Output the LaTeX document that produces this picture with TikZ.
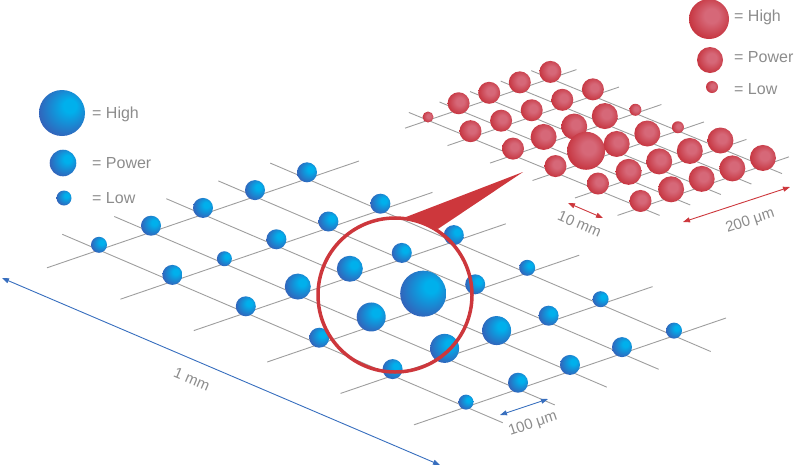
\documentclass[tikz,border=0pt]{standalone}
\usepackage{fontspec}
\setmainfont{Liberation Sans}
\usetikzlibrary{arrows.meta}

\definecolor{gridgray}{RGB}{158,158,158}
\definecolor{bhi}{RGB}{0,176,236}
\definecolor{blo}{RGB}{52,96,184}
\definecolor{rhi}{RGB}{214,104,120}
\definecolor{rlo}{RGB}{196,46,56}
\definecolor{dimblue}{RGB}{55,110,190}
\definecolor{dimred}{RGB}{205,55,60}
\definecolor{txtgray}{RGB}{140,140,140}

\pgfdeclareradialshading{bluesph}{\pgfpoint{10bp}{9bp}}{color(0bp)=(bhi); color(7bp)=(bhi); color(31bp)=(blo); color(50bp)=(blo)}
\pgfdeclareradialshading{redsph}{\pgfpoint{4bp}{5bp}}{color(0bp)=(rhi); color(9bp)=(rhi); color(30bp)=(rlo); color(50bp)=(rlo)}

\begin{document}
\begin{tikzpicture}[x=1pt,y=-1pt,
  gridline/.style={gridgray,line width=0.9pt},
  bball/.style={circle,inner sep=0pt,minimum size=2*#1,shade,shading=bluesph},
  rball/.style={circle,inner sep=0pt,minimum size=2*#1,shade,shading=redsph},
  legtext/.style={txtgray,anchor=west,inner sep=0pt,font=\fontsize{16}{18}\selectfont},
  dimtext/.style={txtgray,inner sep=0pt,font=\fontsize{15}{17}\selectfont},
  dimline/.style={<->,>={Stealth[length=7pt,width=5pt,inset=0pt]},line width=0.9pt}]
 \useasboundingbox (0,0) rectangle (800,467);

 % blue array
 \begin{scope}[shift={(99,250)},x={(52pt,17.8pt)},y={(73.4pt,-31.4pt)}]
  \foreach \i in {0,...,5}
   \draw[gridline] (-1,\i) -- (5,\i);
  \foreach \j in {0,...,4}
   \draw[gridline] (\j,-0.5) -- (\j,5.5);
  \foreach \i/\j/\r in {0/0/8,0/1/10,0/2/10,0/3/10,0/4/10,
    1/0/10,1/1/7.5,1/2/10,1/3/10,1/4/10,
    2/0/10,2/1/13,2/2/13,2/3/10,2/4/10,
    3/0/10,3/1/14.5,3/2/23,3/3/10,3/4/8,
    4/0/10,4/1/14.5,4/2/14.5,4/3/10,4/4/8,
    5/0/7.5,5/1/10,5/2/10,5/3/10,5/4/8}
   \node[bball=\r,yshift=0.65*\r] (b-\i-\j) at (\j,\i) {};
 \end{scope}

 % red array (zoomed)
 \begin{scope}[shift={(428,120.3)},x={(30.6pt,10.45pt)},y={(42.5pt,-17.45pt)}]
  \foreach \i in {0,...,5}
   \draw[gridline] (-0.75,\i) -- (4.85,\i);
  \foreach \j in {0,...,4}
   \draw[gridline] (\j,-0.45) -- (\j,5.45);
  \foreach \i/\j/\r in {0/0/5.5,0/1/11,0/2/11,0/3/11,0/4/11,
    1/0/11,1/1/11,1/2/11,1/3/11,1/4/11,
    2/0/11,2/1/13,2/2/13,2/3/13,2/4/6,
    3/0/11,3/1/19,3/2/13,3/3/13,3/4/6,
    4/0/11,4/1/13,4/2/13,4/3/13,4/4/13,
    5/0/11,5/1/13,5/2/13,5/3/13,5/4/13}
   \node[rball=\r,yshift=0.6*\r] (r-\i-\j) at (\j,\i) {};
 \end{scope}

 % magnifier
 \node[circle,draw=dimred,line width=3.5pt,minimum size=154pt,inner sep=0pt] (lens) at (395,295) {};
 \coordinate (tip) at (523,172);
 \fill[dimred] (lens.82) -- (tip) -- (lens.57) -- cycle;

 % dimensions
 \coordinate (mm-a) at (2,278);
 \coordinate (mm-b) at (440,465);
 \draw[dimline,dimblue] (mm-a) -- node[dimtext,sloped,pos=0.45,below=13pt] {1 mm} (mm-b);
 \coordinate (um-a) at (500,415);
 \coordinate (um-b) at (548,399);
 \draw[dimline,dimblue] (um-a) -- node[dimtext,sloped,pos=0.56,below=12pt] {100 μm} (um-b);
 \coordinate (rmm-a) at (568,203);
 \coordinate (rmm-b) at (603,218);
 \draw[dimline,dimred] (rmm-a) -- node[dimtext,sloped,pos=0.5,below=9pt] {10 mm} (rmm-b);
 \coordinate (rum-a) at (683,222);
 \coordinate (rum-b) at (790,187);
 \draw[dimline,dimred] (rum-a) -- node[dimtext,sloped,pos=0.57,below=13pt] {200 μm} (rum-b);

 % legends
 \node[bball=23] (bl-high) at (62,113) {};
 \node[bball=13.3] (bl-power) at (63,163) {};
 \node[bball=7.5] (bl-low) at (64,198) {};
 \node[legtext] (bt-high) at (92,114) {= High};
 \node[legtext] (bt-power) at (92,163) {= Power};
 \node[legtext] (bt-low) at (92,198) {= Low};
 \node[rball=20] (rl-high) at (709,19) {};
 \node[rball=13] (rl-power) at (710,60) {};
 \node[rball=6] (rl-low) at (712,87) {};
 \node[legtext] (rt-high) at (734,17) {= High};
 \node[legtext] (rt-power) at (734,57) {= Power};
 \node[legtext] (rt-low) at (734,89) {= Low};
\end{tikzpicture}
\end{document}
